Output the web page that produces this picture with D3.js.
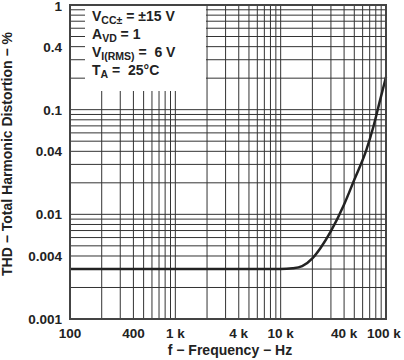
<!DOCTYPE html>
<html>
<head>
<meta charset="utf-8">
<script src="https://cdn.jsdelivr.net/npm/d3@7"></script>
<style>
  body { margin: 0; background: #fff; }
  svg { display: block; font-family: "Liberation Sans", Arial, sans-serif; font-weight: bold; }
</style>
</head>
<body>
<div id="chart"></div>
<script>
// THD vs frequency
let freq = [100, 1000, 10000, 13000, 16000, 20000, 24000, 30000, 40000, 50000, 65000, 76000, 88000, 100000];
let thd  = [0.003, 0.003, 0.003, 0.00305, 0.0032, 0.0038, 0.0048, 0.0069, 0.0124, 0.0214, 0.041, 0.069, 0.124, 0.205];

let xTickValues = [100, 400, 1000, 4000, 10000, 40000, 100000];
let xTickLabels = ["100", "400", "1 k", "4 k", "10 k", "40 k", "100 k"];
let yTickValues = [1, 0.4, 0.1, 0.04, 0.01, 0.004, 0.001];
let yTickLabels = ["1", "0.4", "0.1", "0.04", "0.01", "0.004", "0.001"];

let legendLines = [
  { main: "V", sub: "CC\u00b1", rest: " = \u00b115 V" },
  { main: "A", sub: "VD", rest: " = 1" },
  { main: "V", sub: "I(RMS)", rest: " =  6 V" },
  { main: "T", sub: "A", rest: " =  25\u00b0C" }
];

let width = 404, height = 360;
let plotL = 70, plotR = 386, plotT = 5, plotB = 319;
let ink = "#222";

let svg = d3.select("#chart").append("svg")
  .attr("width", width)
  .attr("height", height);

let x = d3.scaleLog().domain([100, 100000]).range([plotL, plotR]);
let y = d3.scaleLog().domain([0.001, 1]).range([plotB, plotT]);

// minor grid 1..9 in every decade
let xGrid = [];
for (let d = 100; d < 100000; d *= 10)
  for (let m = 1; m < 10; m++) if (d * m > 100) xGrid.push(d * m);
let yGrid = [];
for (let d = 0.001; d < 0.99; d *= 10)
  for (let m = 1; m < 10; m++) if (d * m > 0.0011) yGrid.push(d * m);

let grid = svg.append("g").attr("stroke", "#333").attr("stroke-width", 1);
grid.selectAll(".vx").data(xGrid).enter().append("line")
  .attr("x1", d => x(d)).attr("x2", d => x(d))
  .attr("y1", plotT).attr("y2", plotB);
grid.selectAll(".hy").data(yGrid).enter().append("line")
  .attr("x1", plotL).attr("x2", plotR)
  .attr("y1", d => y(d)).attr("y2", d => y(d));

// legend box blanks the grid
svg.append("rect")
  .attr("x", 85).attr("y", plotT)
  .attr("width", 121).attr("height", 86)
  .attr("fill", "#fff");

let legend = svg.append("g").attr("fill", ink);
legendLines.forEach((l, i) => {
  let t = legend.append("text")
    .attr("xml:space", "preserve")
    .attr("x", 92)
    .attr("y", 21 + i * 18)
    .attr("font-size", 14);
  t.append("tspan").text(l.main);
  t.append("tspan").attr("font-size", 10.5).attr("dy", 3).text(l.sub);
  t.append("tspan").attr("dy", -3).text(l.rest);
});

// curve
let line = d3.line()
  .x(d => x(d[0]))
  .y(d => y(d[1]))
  .curve(d3.curveMonotoneX);
svg.append("path")
  .datum(d3.zip(freq, thd))
  .attr("d", line)
  .attr("fill", "none")
  .attr("stroke", ink)
  .attr("stroke-width", 2.5);

// frame
svg.append("rect")
  .attr("x", plotL).attr("y", plotT)
  .attr("width", plotR - plotL).attr("height", plotB - plotT)
  .attr("fill", "none")
  .attr("stroke", "#444")
  .attr("stroke-width", 2);

// tick labels
svg.selectAll(".xl").data(xTickValues).enter().append("text")
  .attr("x", (d, i) => i == xTickValues.length - 1 ? x(d) - 2 : x(d))
  .attr("y", 338)
  .attr("text-anchor", "middle")
  .attr("font-size", 13.5)
  .attr("fill", ink)
  .text((d, i) => xTickLabels[i]);

svg.selectAll(".yl").data(yTickValues).enter().append("text")
  .attr("x", 62)
  .attr("y", d => Math.max(y(d), 6))
  .attr("dy", "0.36em")
  .attr("text-anchor", "end")
  .attr("font-size", 13.5)
  .attr("fill", ink)
  .text((d, i) => yTickLabels[i]);

// axis titles
svg.append("text")
  .attr("x", 230).attr("y", 355)
  .attr("text-anchor", "middle")
  .attr("font-size", 14)
  .attr("fill", ink)
  .text("f \u2212 Frequency \u2212 Hz");

svg.append("text")
  .attr("transform", "translate(12,154) rotate(-90)")
  .attr("text-anchor", "middle")
  .attr("font-size", 14)
  .attr("fill", ink)
  .text("THD \u2212 Total Harmonic Distortion \u2212 %");
</script>
</body>
</html>
